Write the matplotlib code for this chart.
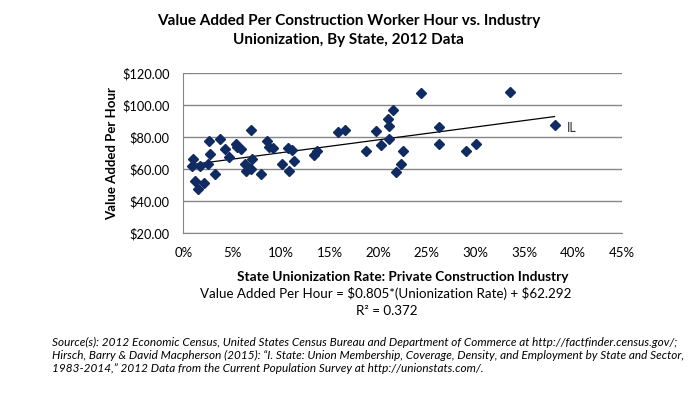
import matplotlib
matplotlib.use("Agg")
import matplotlib.pyplot as plt
import numpy as np

plt.rcParams["font.family"] = ["Lato", "DejaVu Sans"]
plt.rcParams["text.parse_math"] = False

# union rate (%) and value added per hour ($), one point per state
union_rate = [
    1.0, 0.9, 1.7, 1.2, 1.5, 2.1, 2.6, 2.7, 2.5, 3.3,
    3.8, 4.25, 4.7, 5.4, 5.5, 5.9, 6.3, 6.4, 6.9, 7.1,
    6.9, 8.0, 8.6, 8.8, 9.2, 10.1, 10.7, 11.2, 10.85, 11.4,
    13.45, 13.7, 15.9, 16.6, 18.8, 19.8, 20.3, 21.0, 21.15, 21.5,
    21.1, 21.8, 22.3, 22.6, 24.4, 26.25, 26.2, 29.0, 30.0, 33.5,
    38.1,
]
value_added = [
    66.4, 62.0, 62.0, 52.9, 47.5, 51.2, 77.5, 69.4, 63.5, 56.9,
    78.7, 72.5, 67.5, 75.8, 73.7, 72.5, 63.1, 58.9, 60.0, 66.4,
    84.4, 56.9, 77.9, 73.7, 73.1, 63.1, 73.1, 72.1, 58.9, 65.2,
    68.7, 71.6, 83.5, 84.8, 71.2, 83.7, 75.4, 91.2, 87.3, 96.8,
    78.9, 58.5, 63.1, 71.2, 107.5, 86.2, 75.6, 71.2, 75.6, 108.1,
    87.5,
]
slope = 0.805
intercept = 62.292
r_squared = 0.372

fig = plt.figure(figsize=(6.97, 3.95), dpi=100)
ax = fig.add_axes([0.263, 0.4094, 0.629, 0.405])

navy = "#0f2b62"
ax.plot(union_rate, value_added, "D", color=navy, markersize=5.5, zorder=3)

xs = np.array([min(union_rate), max(union_rate)])
ax.plot(xs, slope * xs + intercept, color="black", lw=0.9, zorder=2)
ax.text(union_rate[-1] + 1.3, value_added[-1] - 1.5, "IL", fontsize=9,
        va="center", ha="left", color="#333333")

ax.set_xlim(0, 45)
ax.set_ylim(20, 120)
ax.set_xticks(range(0, 50, 5))
ax.set_xticklabels([f"{t}%" for t in range(0, 50, 5)])
ax.set_yticks(range(20, 140, 20))
ax.set_yticklabels([f"${t}.00" for t in range(20, 140, 20)])
ax.tick_params(axis="x", length=0, labelsize=9.5, pad=10)
ax.tick_params(axis="y", length=0, labelsize=9.2, pad=10)
ax.grid(axis="y", color="#868686", lw=1)
for s in ["top", "right"]:
    ax.spines[s].set_visible(False)
for s in ["left", "bottom"]:
    ax.spines[s].set_color("#868686")

ax.set_ylabel("Value Added Per Hour", fontsize=9.5, fontweight="bold", labelpad=3)
ax.set_xlabel("State Unionization Rate: Private Construction Industry",
              fontsize=9.8, fontweight="bold", labelpad=8.5)

fig.text(0.5, 0.965, "Value Added Per Construction Worker Hour vs. Industry\n"
         "Unionization, By State, 2012 Data", ha="center", va="top",
         fontsize=11, fontweight="bold", linespacing=1.45)

fig.text(0.553, 0.256, f"Value Added Per Hour = ${slope}*(Unionization Rate) + ${intercept}",
         ha="center", va="center", fontsize=9.6)
fig.text(0.555, 0.213, f"R² = {r_squared}", ha="center", va="center", fontsize=9.6)

source = ("Source(s): 2012 Economic Census, United States Census Bureau and Department of Commerce at http://factfinder.census.gov/;\n"
          "Hirsch, Barry & David Macpherson (2015): \u201cI. State: Union Membership, Coverage, Density, and Employment by State and Sector,\n"
          "1983-2014,\u201d 2012 Data from the Current Population Survey at http://unionstats.com/.")
fig.text(0.074, 0.148, source, ha="left", va="top", fontsize=8.5,
         style="italic", linespacing=1.22)

fig.savefig("out.png", dpi=100, facecolor="white")
